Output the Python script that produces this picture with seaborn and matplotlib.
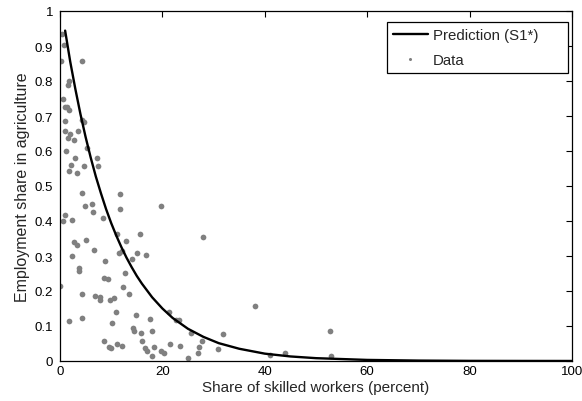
import matplotlib
matplotlib.use("Agg")
import matplotlib.pyplot as plt
from matplotlib.lines import Line2D
import numpy as np
import pandas as pd
import seaborn as sns

# Observed country data: skilled share (percent) vs. agricultural employment share
skilled_share = [
    0.45, 0.73, 0.26, 4.2, 1.8, 1.6, 0.65, 0.9, 1.4, 1.8,
    1.0, 4.2, 4.6, 0.9, 1.9, 1.6, 2.8, 3.5, 5.2, 1.2,
    3.0, 7.3, 2.2, 4.7, 7.4, 1.8, 3.3, 4.3, 11.7, 4.9,
    6.2, 11.7, 6.4, 8.4, 1.0, 0.65, 2.3, 11.1, 12.8, 2.7,
    5.1, 3.3, 2.4, 6.6, 11.6, 12.1, 3.7, 3.8, 8.8, 12.6,
    8.5, 9.3, 0.06, 12.3, 4.3, 6.8, 7.9, 7.9, 9.7, 10.6,
    11.0, 10.2, 1.8, 4.2, 8.6, 9.6, 10.0, 11.2, 12.2, 19.7,
    15.6, 15.0, 16.7, 14.0, 13.4, 21.2, 22.7, 23.3, 14.9, 17.6,
    14.2, 14.4, 15.8, 17.9, 25.5, 16.0, 16.6, 17.0, 17.9, 18.4,
    19.7, 20.4, 21.4, 23.5, 25.0, 27.7, 27.2, 26.9, 31.9, 30.8,
    38.0, 41.0, 43.9, 27.9, 52.7, 52.9,
]
agri_share = [
    0.934, 0.903, 0.856, 0.856, 0.800, 0.788, 0.748, 0.725, 0.725, 0.717,
    0.687, 0.689, 0.684, 0.658, 0.648, 0.637, 0.632, 0.658, 0.610, 0.600,
    0.581, 0.581, 0.560, 0.558, 0.556, 0.542, 0.536, 0.481, 0.477, 0.442,
    0.448, 0.435, 0.426, 0.410, 0.416, 0.400, 0.404, 0.363, 0.344, 0.339,
    0.347, 0.331, 0.299, 0.316, 0.310, 0.315, 0.265, 0.258, 0.287, 0.251,
    0.237, 0.233, 0.215, 0.212, 0.191, 0.186, 0.182, 0.175, 0.174, 0.180,
    0.141, 0.110, 0.115, 0.124, 0.058, 0.040, 0.037, 0.049, 0.044, 0.444,
    0.362, 0.308, 0.302, 0.291, 0.191, 0.139, 0.118, 0.117, 0.131, 0.120,
    0.093, 0.085, 0.079, 0.085, 0.079, 0.056, 0.036, 0.029, 0.015, 0.039,
    0.029, 0.022, 0.049, 0.044, 0.010, 0.057, 0.039, 0.023, 0.077, 0.033,
    0.158, 0.017, 0.024, 0.353, 0.086, 0.014,
]

# Model prediction (S1*) sampled along the skilled-share axis
pred_x = [1, 2, 3, 4, 5, 6, 7, 8, 9, 10, 11, 12, 13, 14, 15, 16, 18, 20,
          22, 25, 28, 31, 35, 40, 45, 50, 60, 70, 80, 90, 100]
pred_y = [0.944, 0.855, 0.777, 0.705, 0.640, 0.581, 0.527, 0.479, 0.434,
          0.394, 0.358, 0.325, 0.295, 0.268, 0.243, 0.221, 0.182, 0.150,
          0.123, 0.092, 0.069, 0.051, 0.035, 0.021, 0.013, 0.0081, 0.0031,
          0.0012, 0.0004, 0.0002, 0.0001]

x_ticks = [0, 20, 40, 60, 80, 100]
y_ticks = [0, 0.1, 0.2, 0.3, 0.4, 0.5, 0.6, 0.7, 0.8, 0.9, 1]
y_tick_labels = ["0", "0.1", "0.2", "0.3", "0.4", "0.5", "0.6", "0.7", "0.8", "0.9", "1"]

sns.set_style("white")
plt.rcParams["font.family"] = ["Liberation Sans", "DejaVu Sans"]
plt.rcParams["font.size"] = 9.5

data_df = pd.DataFrame({"skilled": skilled_share, "agri": agri_share})
pred_df = pd.DataFrame({"skilled": pred_x, "agri": pred_y})

fig = plt.figure(figsize=(5.82, 4.02), dpi=100)
ax = fig.add_axes([60 / 582, 1 - 362 / 402, 512 / 582, 350 / 402])

sns.scatterplot(data=data_df, x="skilled", y="agri", ax=ax, color="#808080",
                s=17, linewidth=0, zorder=2, legend=False)
sns.lineplot(data=pred_df, x="skilled", y="agri", ax=ax, color="black",
             linewidth=1.7, zorder=3, legend=False)

ax.set_xlim(0, 100)
ax.set_ylim(0, 1)
ax.set_xticks(x_ticks)
ax.set_xticklabels([str(t) for t in x_ticks])
ax.set_yticks(y_ticks)
ax.set_yticklabels(y_tick_labels)
ax.tick_params(direction="in", length=4, width=0.8, top=True, right=True,
               colors="black", labelsize=9.5)
ax.tick_params(axis="x", pad=3)
ax.tick_params(axis="y", pad=5)
for sp in ax.spines.values():
    sp.set_color("black")
    sp.set_linewidth(0.9)
    sp.set_visible(True)

ax.set_xlabel("Share of skilled workers (percent)", fontsize=11, labelpad=2)
ax.set_ylabel("Employment share in agriculture", fontsize=11.5, labelpad=3)

handles = [
    Line2D([], [], color="black", linewidth=1.7),
    Line2D([], [], color="#808080", marker="o", markersize=1.2, linestyle="none"),
]
leg = ax.legend(handles, ["Prediction (S1*)", "Data"], loc="upper left",
                bbox_to_anchor=(0.639, 0.969, 0.353, 0.0), mode="expand",
                frameon=True, fancybox=False,
                edgecolor="black", framealpha=1, borderpad=0.4,
                labelspacing=0.75, handlelength=2.3, handletextpad=0.35,
                borderaxespad=0, fontsize=10.8)
leg.get_frame().set_linewidth(0.9)

fig.savefig("out.png", dpi=100)
